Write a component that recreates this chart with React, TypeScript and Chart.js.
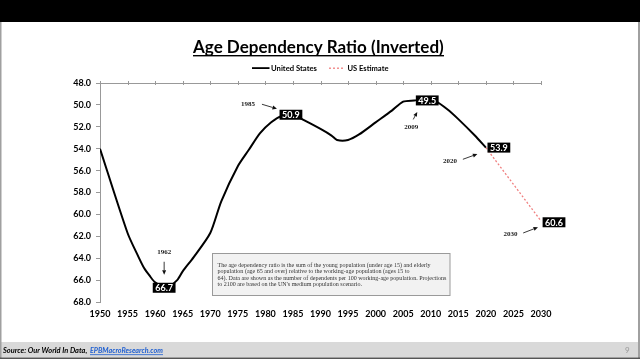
import { useEffect, useRef } from "react";
import { Chart, registerables } from "chart.js";
Chart.register(...registerables);

const usYears = [1950, 1955, 1957, 1958, 1959, 1960, 1962, 1964, 1965, 1967, 1970, 1972, 1975, 1977, 1979, 1981, 1983, 1985, 1987, 1990, 1992, 1993, 1995, 1997, 2000, 2003, 2005, 2007, 2009, 2011, 2013, 2015, 2018, 2020];
const usValues = [54.0, 61.7, 63.9, 64.9, 65.6, 66.2, 66.7, 66.0, 65.2, 63.9, 61.7, 58.8, 55.6, 54.1, 52.6, 51.6, 51.0, 50.9, 51.4, 52.2, 52.8, 53.2, 53.2, 52.7, 51.6, 50.5, 49.7, 49.6, 49.5, 49.7, 50.4, 51.3, 52.8, 53.9];
const estYears = [2020, 2030];
const estValues = [53.9, 60.6];

const calloutYears = [1962, 1985, 2009, 2020, 2030];
const calloutValues = [66.7, 50.9, 49.5, 53.9, 60.6];

const titleText = "Age Dependency Ratio (Inverted)";
const legendLabels = ["United States", "US Estimate"];
const noteLines = [
  "The age dependency ratio is the sum of the young population (under age 15) and elderly",
  "population (age 65 and over) relative to the working-age population (ages 15 to",
  "64). Data are shown as the number of dependents per 100 working-age population. Projections",
  "to 2100 are based on the UN's medium population scenario.",
];
const sourceText = "Source: Our World In Data, ";
const sourceLink = "EPBMacroResearch.com";
const pageNumber = "9";

// layout/style for callouts (offsets in px from the data point)
const calloutStyle = [
  { box: [-2, 0], text: [-2, -36], a1: [-2, -26], a2: [-2, -13] },
  { box: [-2, 0], text: [-45, -10.5], a1: [-31, -10.5], a2: [-16, -6] },
  { box: [2, 1], text: [-14, 28], a1: [-12, 20], a2: [-8, 12.5] },
  { box: [13, 0], text: [-36, 13.4], a1: [-23, 11.7], a2: [-8.5, 6.4] },
  { box: [13, 1.3], text: [-30.4, 13], a1: [-17.8, 12], a2: [-3, 6.3] },
];

function fit(ctx: CanvasRenderingContext2D, text: string, style: string, family: string, target: number) {
  ctx.font = `${style} 10px ${family}`;
  const w = ctx.measureText(text).width;
  const size = (10 * target) / w;
  ctx.font = `${style} ${size}px ${family}`;
  return size;
}

function arrow(ctx: CanvasRenderingContext2D, x1: number, y1: number, x2: number, y2: number) {
  const ang = Math.atan2(y2 - y1, x2 - x1);
  const hl = 4.5;
  const bx = x2 - hl * Math.cos(ang);
  const by = y2 - hl * Math.sin(ang);
  ctx.strokeStyle = "#222";
  ctx.lineWidth = 0.9;
  ctx.beginPath();
  ctx.moveTo(x1, y1);
  ctx.lineTo(bx, by);
  ctx.stroke();
  ctx.fillStyle = "#111";
  ctx.beginPath();
  ctx.moveTo(x2, y2);
  ctx.lineTo(bx + 2 * Math.sin(ang), by - 2 * Math.cos(ang));
  ctx.lineTo(bx - 2 * Math.sin(ang), by + 2 * Math.cos(ang));
  ctx.closePath();
  ctx.fill();
}

export default function App() {
  const ref = useRef<HTMLCanvasElement>(null);
  useEffect(() => {
    const canvas = ref.current!;
    const decor = {
      id: "decor",
      beforeDraw(chart: any) {
        const ctx = chart.ctx as CanvasRenderingContext2D;
        ctx.save();
        ctx.fillStyle = "#ffffff";
        ctx.fillRect(0, 0, 640, 359);
        ctx.fillStyle = "#000000";
        ctx.fillRect(0, 0, 640, 22);
        ctx.fillStyle = "#d9d9d9";
        ctx.fillRect(0, 342, 640, 15.5);
        ctx.fillStyle = "#a0a0a0";
        ctx.fillRect(0, 22, 1.5, 337);
        ctx.fillRect(638, 22, 2, 337);
        ctx.fillStyle = "#555";
        ctx.fillRect(0, 357.5, 640, 1.5);
        ctx.restore();
      },
      afterDatasetsDraw(chart: any) {
        const ctx = chart.ctx as CanvasRenderingContext2D;
        const xs = chart.scales.x;
        const ys = chart.scales.y;
        const area = chart.chartArea;
        ctx.save();
        // top axis line with tick marks
        ctx.strokeStyle = "#999";
        ctx.lineWidth = 1;
        ctx.beginPath();
        ctx.moveTo(area.left, Math.round(area.top) + 0.5);
        ctx.lineTo(area.right, Math.round(area.top) + 0.5);
        for (let yr = 1950; yr <= 2030; yr += 5) {
          const px = Math.round(xs.getPixelForValue(yr)) + 0.5;
          ctx.moveTo(px, area.top - 2);
          ctx.lineTo(px, area.top + 2);
        }
        ctx.stroke();

        // callouts
        calloutYears.forEach((yr, i) => {
          const v = calloutValues[i];
          const px = xs.getPixelForValue(yr);
          const py = ys.getPixelForValue(v);
          const st = calloutStyle[i];
          const label = v.toFixed(1);
          ctx.font = "bold 9px Lato";
          const tw = ctx.measureText(label).width;
          const bw = tw + 5;
          const bh = 10;
          const cx = px + st.box[0];
          const cy = py + st.box[1];
          ctx.fillStyle = "#000";
          ctx.fillRect(cx - bw / 2, cy - bh / 2, bw, bh);
          ctx.fillStyle = "#fff";
          ctx.textAlign = "center";
          ctx.textBaseline = "middle";
          ctx.fillText(label, cx, cy + 0.5);
          ctx.font = "bold 7px 'Liberation Serif'";
          ctx.fillStyle = "#222";
          ctx.fillText(String(yr), px + st.text[0], py + st.text[1]);
          arrow(ctx, px + st.a1[0], py + st.a1[1], px + st.a2[0], py + st.a2[1]);
        });
        ctx.restore();
      },
      afterDraw(chart: any) {
        const ctx = chart.ctx as CanvasRenderingContext2D;
        ctx.save();
        ctx.fillStyle = "#000";
        ctx.textBaseline = "alphabetic";
        ctx.textAlign = "left";
        fit(ctx, titleText, "bold", "Lato", 251);
        ctx.fillText(titleText, 193, 52.5);
        ctx.fillRect(193, 55, 251, 1.4);

        ctx.fillStyle = "#000";
        ctx.fillRect(252, 67.2, 17.5, 1.8);
        fit(ctx, legendLabels[0], "bold", "Lato", 46);
        ctx.textBaseline = "middle";
        ctx.fillText(legendLabels[0], 271, 68.3);
        ctx.strokeStyle = "#f08080";
        ctx.lineWidth = 1.3;
        ctx.setLineDash([2, 2]);
        ctx.beginPath();
        ctx.moveTo(329, 68.2);
        ctx.lineTo(345, 68.2);
        ctx.stroke();
        ctx.setLineDash([]);
        fit(ctx, legendLabels[1], "bold", "Lato", 41);
        ctx.fillText(legendLabels[1], 347.5, 68.3);

        ctx.fillStyle = "#f2f2f2";
        ctx.fillRect(212.5, 253.5, 237.5, 42);
        ctx.strokeStyle = "#9a9a9a";
        ctx.lineWidth = 1;
        ctx.strokeRect(212.5, 253.5, 237.5, 42);
        ctx.fillStyle = "#333";
        const ns = fit(ctx, noteLines[2], "normal", "'Liberation Serif'", 229);
        ctx.font = `normal ${ns}px 'Liberation Serif'`;
        ctx.textBaseline = "middle";
        noteLines.forEach((ln, i) => ctx.fillText(ln, 217.5, 265 + i * 6.5));

        ctx.textBaseline = "middle";
        ctx.fillStyle = "#000";
        fit(ctx, sourceText, "italic bold", "Lato", 86);
        ctx.fillText(sourceText, 3, 350.5);
        ctx.fillStyle = "#1f5fd1";
        fit(ctx, sourceLink, "italic bold", "Lato", 73);
        ctx.fillText(sourceLink, 90, 350.5);
        ctx.fillRect(90, 354.3, 73, 0.8);
        ctx.fillStyle = "#999";
        ctx.font = "8px Lato";
        ctx.fillText(pageNumber, 625, 350.5);
        ctx.restore();
      },
    };

    const chart = new Chart(canvas, {
      type: "line",
      data: {
        datasets: [
          {
            label: legendLabels[0],
            data: usYears.map((x, i) => ({ x, y: usValues[i] })),
            borderColor: "#000",
            borderWidth: 2,
            pointRadius: 0,
            tension: 0.25,
            borderJoinStyle: "round",
            fill: false,
          },
          {
            label: legendLabels[1],
            data: estYears.map((x, i) => ({ x, y: estValues[i] })),
            borderColor: "#f08080",
            borderWidth: 1.3,
            borderDash: [2, 2],
            pointRadius: 0,
            fill: false,
          },
        ],
      },
      options: {
        responsive: false,
        animation: false,
        devicePixelRatio: 1,
        layout: { padding: { top: 83, left: 0, right: 99, bottom: 37 } },
        plugins: { legend: { display: false }, title: { display: false }, tooltip: { enabled: false } },
        scales: {
          x: {
            type: "linear",
            min: 1950,
            max: 2030,
            grid: { display: false, drawTicks: false },
            border: { display: false },
            ticks: {
              stepSize: 5,
              padding: 7,
              color: "#000",
              font: { family: "Lato", weight: "bold", size: 9 },
              callback: (v: any) => String(v),
              maxRotation: 0,
              autoSkip: false,
            },
            afterFit: (s: any) => {
              s.height = 20;
            },
          },
          y: {
            min: 48,
            max: 68,
            reverse: true,
            grid: { display: true, drawOnChartArea: false, drawTicks: true, tickLength: 4, color: "#999" },
            border: { display: true, color: "#999", width: 1 },
            ticks: {
              stepSize: 2,
              padding: 5,
              color: "#000",
              font: { family: "Lato", weight: "bold", size: 9 },
              callback: (v: any) => Number(v).toFixed(1),
            },
            afterFit: (s: any) => {
              s.width = 100;
            },
          },
        },
      },
      plugins: [decor],
    } as any);
    return () => chart.destroy();
  }, []);
  return (
    <div style={{ position: "absolute", left: 0, top: 0, width: 640, height: 359 }}>
      <canvas ref={ref} width={640} height={359} style={{ display: "block", width: 640, height: 359 }} />
    </div>
  );
}
